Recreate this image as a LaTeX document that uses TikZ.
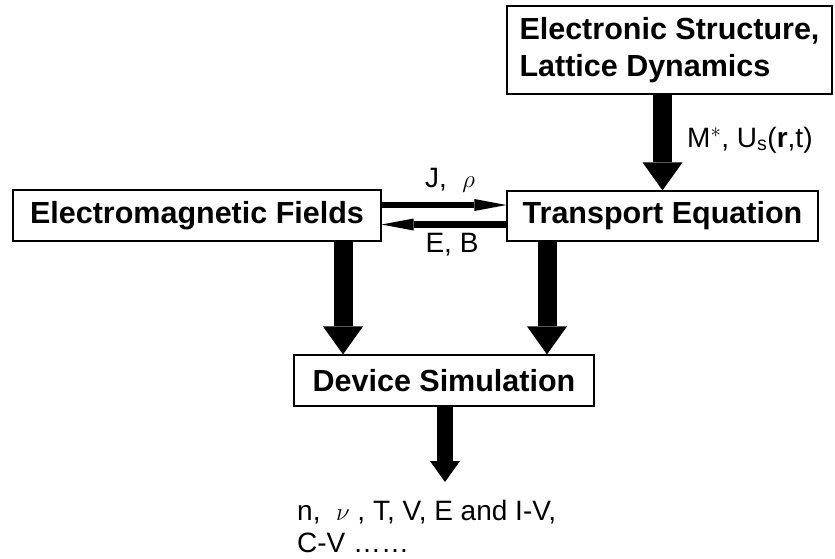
\documentclass[tikz,border=0pt]{standalone}
\usepackage{fontspec}
\setmainfont{Liberation Sans}
\usetikzlibrary{arrows.meta}

\tikzset{
    box/.style={draw, line width=1.2pt, inner sep=0pt, font=\fontsize{30.5}{37}\selectfont\bfseries},
    fatarrow/.style={line width=19pt, -{Triangle[width=40pt, length=28pt, line width=0pt]}},
    thinarrow/.style={line width=6.5pt, -{Triangle[width=12pt, length=32pt, line width=0pt]}},
    lbl/.style={inner sep=0pt, font=\fontsize{28}{32}\selectfont}
}

\begin{document}
\begin{tikzpicture}[x=1pt, y=-1pt]
    \useasboundingbox (0,0) rectangle (835,558);

    % Define nodes
    \node[box, minimum width=325pt, minimum height=88pt, align=left] (struct) at (669.5,50) {Electronic Structure,\\Lattice Dynamics};
    \node[box, minimum width=311pt, minimum height=50pt] (transport) at (662.5,216) {Transport Equation};
    \node[box, minimum width=368pt, minimum height=51pt] (fields) at (197,215.5) {Electromagnetic Fields};
    \node[box, minimum width=300pt, minimum height=51pt] (device) at (444,380.5) {Device Simulation};
    \coordinate (out) at (445,482);

    % Draw fat arrows
    \draw[fatarrow] (struct.south -| transport.north) -- (transport.north);
    \draw[fatarrow] (fields.south -| 343,0) -- (device.north -| 343,0);
    \draw[fatarrow] (transport.south -| 547,0) -- (device.north -| 547,0);
    \draw[fatarrow, line width=16pt, -{Triangle[width=30pt, length=21pt, line width=0pt]}] (device.south -| out) -- (out);

    % Draw exchange arrows
    \draw[thinarrow] (fields.east |- 0,205) -- (transport.west |- 0,205);
    \draw[thinarrow] (transport.west |- 0,224.5) -- (fields.east |- 0,224.5);

    % Add labels
    \node[lbl] (jrho) at (450,180) {J,\ \ $\rho$};
    \node[lbl] (eb) at (452,245) {E, B};
    \node[lbl, anchor=base west] (mu) at (687,147) {M$^{*}$, U$_{\mathrm{s}}$(\textbf{r},t)};
    \node[lbl, anchor=base west, align=left] (result) at (297,552) {n,\ \ $\nu$ , T, V, E and I-V,\\C-V \ldots\ldots};
\end{tikzpicture}
\end{document}
